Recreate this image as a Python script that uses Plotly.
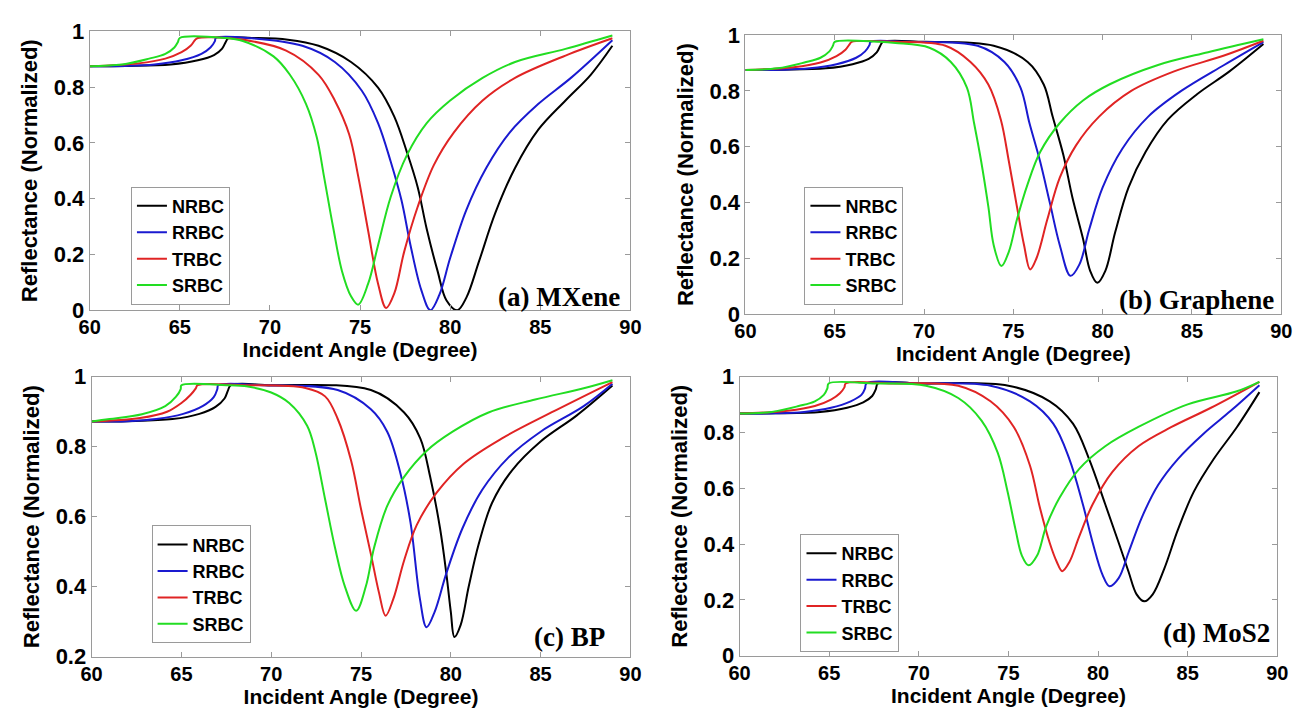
import plotly.graph_objects as go

# ---- Reflectance curves (incident angle in degrees, normalized reflectance) ----
series_names = ["NRBC", "RRBC", "TRBC", "SRBC"]
series_colors = ["#000000", "#1a1ad0", "#e02424", "#22dd22"]
panel_labels = ["(a) MXene", "(b) Graphene", "(c) BP", "(d) MoS2"]
x_ticks = [60, 65, 70, 75, 80, 85, 90]

# (a) MXene
a_nrbc_x = [60, 62, 64.5, 66, 66.9, 67.35, 67.55, 67.7, 69, 71, 72.7, 74.5, 76.0, 76.9, 77.6, 78.2, 78.7, 79.3, 79.8, 80.4, 80.9, 81.6, 82.5, 83.6, 84.9, 86.4, 87.8, 89]
a_nrbc_y = [0.875, 0.876, 0.881, 0.896, 0.915, 0.938, 0.962, 0.976, 0.976, 0.97, 0.948, 0.89, 0.798, 0.694, 0.567, 0.441, 0.291, 0.141, 0.035, 0.0, 0.045, 0.175, 0.348, 0.51, 0.648, 0.752, 0.844, 0.948]
a_rrbc_x = [60, 62, 63.6, 65.1, 66.2, 66.7, 66.95, 67.0, 69, 71.8, 73.6, 75.1, 76.0, 76.7, 77.3, 77.8, 78.4, 78.9, 79.4, 80.0, 80.9, 82.0, 83.3, 84.9, 86.7, 89]
a_rrbc_y = [0.875, 0.876, 0.881, 0.896, 0.919, 0.942, 0.965, 0.976, 0.975, 0.948, 0.89, 0.787, 0.671, 0.533, 0.394, 0.233, 0.072, 0.0, 0.055, 0.187, 0.36, 0.51, 0.637, 0.74, 0.833, 0.968]
a_trbc_x = [60, 62.7, 64.2, 65.1, 65.6, 65.85, 66.0, 68.2, 70.9, 72.7, 73.6, 74.4, 74.9, 75.45, 76.0, 76.45, 76.9, 77.45, 78.2, 79.1, 80.2, 81.8, 83.6, 86.4, 89]
a_trbc_y = [0.875, 0.885, 0.902, 0.925, 0.948, 0.969, 0.976, 0.972, 0.931, 0.844, 0.752, 0.63, 0.48, 0.285, 0.095, 0.008, 0.06, 0.21, 0.371, 0.521, 0.637, 0.752, 0.833, 0.913, 0.975]
a_srbc_x = [60, 61.8, 63.3, 64.2, 64.7, 64.9, 65.0, 67.5, 68.5, 70.2, 71.1, 72.0, 72.6, 73.0, 73.5, 74.0, 74.5, 74.9, 75.45, 76.0, 76.7, 77.6, 78.7, 80.0, 81.8, 83.6, 86.4, 89]
a_srbc_y = [0.875, 0.881, 0.902, 0.919, 0.942, 0.962, 0.976, 0.976, 0.965, 0.91, 0.845, 0.74, 0.62, 0.48, 0.3, 0.14, 0.05, 0.02, 0.095, 0.233, 0.406, 0.556, 0.671, 0.752, 0.833, 0.89, 0.937, 0.985]

# (b) Graphene
b_nrbc_x = [60, 62, 64.5, 66, 66.9, 67.35, 67.55, 67.7, 70, 73.9, 75.8, 76.7, 77.2, 77.8, 78.3, 78.9, 79.3, 79.7, 80.15, 80.7, 81.45, 82.4, 83.65, 85.3, 87.1, 89]
b_nrbc_y = [0.875, 0.876, 0.881, 0.896, 0.915, 0.938, 0.962, 0.976, 0.976, 0.962, 0.904, 0.823, 0.708, 0.57, 0.42, 0.27, 0.155, 0.112, 0.155, 0.293, 0.454, 0.581, 0.697, 0.789, 0.87, 0.968]
b_rrbc_x = [60, 62, 63.6, 65.1, 66.2, 66.7, 66.95, 67.0, 69, 73.0, 74.5, 75.4, 75.9, 76.5, 77.05, 77.6, 78.2, 78.7, 79.25, 80.0, 81.1, 82.55, 84.4, 86.8, 89]
b_rrbc_y = [0.875, 0.876, 0.881, 0.896, 0.919, 0.942, 0.965, 0.976, 0.976, 0.962, 0.904, 0.812, 0.685, 0.547, 0.397, 0.247, 0.137, 0.178, 0.304, 0.454, 0.593, 0.708, 0.8, 0.893, 0.975]
b_trbc_x = [60, 62.7, 64.2, 65.1, 65.6, 65.85, 65.95, 68.4, 71.2, 72.6, 73.6, 74.3, 74.75, 75.2, 75.6, 75.94, 76.3, 76.9, 77.6, 78.5, 79.8, 81.6, 84.0, 86.8, 89]
b_trbc_y = [0.875, 0.885, 0.902, 0.925, 0.948, 0.969, 0.976, 0.976, 0.962, 0.904, 0.823, 0.697, 0.547, 0.385, 0.247, 0.16, 0.201, 0.339, 0.489, 0.604, 0.708, 0.8, 0.87, 0.927, 0.98]
b_srbc_x = [60, 61.8, 63.3, 64.2, 64.7, 64.9, 65.0, 67.5, 68.4, 70.3, 71.5, 72.4, 72.8, 73.2, 73.6, 73.9, 74.33, 74.75, 75.2, 75.8, 76.5, 77.6, 78.9, 80.4, 83.1, 85.9, 89]
b_srbc_y = [0.875, 0.881, 0.902, 0.919, 0.942, 0.962, 0.976, 0.976, 0.972, 0.955, 0.904, 0.812, 0.685, 0.547, 0.385, 0.247, 0.172, 0.224, 0.339, 0.466, 0.581, 0.685, 0.766, 0.824, 0.893, 0.939, 0.985]

# (c) BP
c_nrbc_x = [60, 62, 64.5, 66, 66.9, 67.4, 67.6, 67.75, 70, 75.55, 77.4, 78.3, 78.85, 79.4, 79.75, 80.0, 80.2, 80.55, 81.0, 81.55, 82.3, 83.4, 85.0, 87.0, 89]
c_nrbc_y = [0.872, 0.873, 0.879, 0.894, 0.914, 0.938, 0.962, 0.976, 0.976, 0.962, 0.898, 0.824, 0.714, 0.567, 0.438, 0.328, 0.256, 0.291, 0.401, 0.521, 0.64, 0.732, 0.815, 0.889, 0.975]
c_rrbc_x = [60, 62, 63.6, 65.1, 66.2, 66.8, 67.0, 67.05, 69.5, 73.7, 75.55, 76.46, 77.2, 77.75, 78.28, 78.65, 79.1, 79.75, 80.65, 81.75, 83.2, 85.0, 87.4, 89]
c_rrbc_y = [0.872, 0.873, 0.879, 0.894, 0.917, 0.942, 0.965, 0.976, 0.976, 0.962, 0.907, 0.843, 0.723, 0.585, 0.365, 0.284, 0.328, 0.438, 0.567, 0.677, 0.769, 0.843, 0.916, 0.98]
c_trbc_x = [60, 62.7, 64.2, 65.0, 65.5, 65.8, 65.9, 68.5, 71.9, 73.0, 73.7, 74.45, 75.0, 75.55, 76.0, 76.37, 76.8, 77.4, 78.1, 79.2, 80.7, 82.85, 85.6, 89]
c_trbc_y = [0.872, 0.882, 0.9, 0.925, 0.948, 0.967, 0.976, 0.976, 0.968, 0.944, 0.88, 0.76, 0.622, 0.493, 0.383, 0.317, 0.365, 0.475, 0.576, 0.668, 0.751, 0.824, 0.898, 0.985]
c_srbc_x = [60, 61.0, 62.8, 64.1, 64.7, 64.96, 65.0, 67.5, 68.7, 70.0, 71.0, 72.0, 72.45, 73.0, 73.55, 74.1, 74.73, 75.27, 75.73, 76.46, 77.4, 78.65, 80.1, 82.1, 84.7, 87.4, 89]
c_srbc_y = [0.872, 0.879, 0.893, 0.916, 0.943, 0.965, 0.976, 0.976, 0.972, 0.955, 0.925, 0.86, 0.788, 0.65, 0.512, 0.401, 0.331, 0.401, 0.512, 0.631, 0.714, 0.788, 0.843, 0.898, 0.935, 0.967, 0.99]

# (d) MoS2
d_nrbc_x = [60, 62, 64.5, 66, 66.9, 67.4, 67.6, 67.72, 70, 75.0, 77.3, 78.6, 79.5, 80.4, 81.15, 81.7, 82.15, 82.58, 83.05, 83.7, 84.45, 85.35, 86.45, 87.75, 89]
d_nrbc_y = [0.868, 0.869, 0.874, 0.889, 0.908, 0.931, 0.955, 0.976, 0.976, 0.968, 0.912, 0.832, 0.705, 0.543, 0.405, 0.301, 0.22, 0.195, 0.22, 0.313, 0.451, 0.589, 0.705, 0.82, 0.945]
d_rrbc_x = [60, 62, 63.6, 65.1, 66.2, 66.8, 67.0, 67.08, 70, 74.0, 76.2, 77.5, 78.4, 79.15, 79.7, 80.25, 80.64, 81.15, 81.7, 82.45, 83.35, 84.45, 85.9, 87.4, 89]
d_rrbc_y = [0.868, 0.869, 0.874, 0.889, 0.912, 0.935, 0.958, 0.976, 0.976, 0.968, 0.912, 0.832, 0.705, 0.543, 0.405, 0.29, 0.249, 0.278, 0.37, 0.497, 0.612, 0.705, 0.797, 0.878, 0.97]
d_trbc_x = [60, 62.7, 64.2, 65.1, 65.6, 65.85, 65.92, 68.5, 72.2, 74.0, 75.3, 76.2, 76.75, 77.3, 77.7, 78.0, 78.4, 78.95, 79.7, 80.8, 82.25, 84.1, 86.3, 89]
d_trbc_y = [0.868, 0.878, 0.895, 0.918, 0.941, 0.962, 0.976, 0.976, 0.968, 0.912, 0.82, 0.682, 0.532, 0.405, 0.336, 0.303, 0.336, 0.428, 0.543, 0.659, 0.751, 0.82, 0.889, 0.982]
d_srbc_x = [60, 61.8, 63.3, 64.2, 64.7, 64.9, 64.97, 67.6, 70.4, 72.2, 73.5, 74.4, 74.95, 75.4, 75.75, 76.12, 76.6, 77.1, 77.85, 78.95, 80.4, 82.25, 85.0, 87.7, 89]
d_srbc_y = [0.868, 0.874, 0.895, 0.912, 0.935, 0.958, 0.976, 0.976, 0.968, 0.924, 0.843, 0.728, 0.589, 0.451, 0.359, 0.324, 0.359, 0.463, 0.566, 0.67, 0.751, 0.82, 0.901, 0.947, 0.982]

panels = [
    [(a_nrbc_x, a_nrbc_y), (a_rrbc_x, a_rrbc_y), (a_trbc_x, a_trbc_y), (a_srbc_x, a_srbc_y)],
    [(b_nrbc_x, b_nrbc_y), (b_rrbc_x, b_rrbc_y), (b_trbc_x, b_trbc_y), (b_srbc_x, b_srbc_y)],
    [(c_nrbc_x, c_nrbc_y), (c_rrbc_x, c_rrbc_y), (c_trbc_x, c_trbc_y), (c_srbc_x, c_srbc_y)],
    [(d_nrbc_x, d_nrbc_y), (d_rrbc_x, d_rrbc_y), (d_trbc_x, d_trbc_y), (d_srbc_x, d_srbc_y)],
]
y_ranges = [[0, 1], [0, 1], [0.2, 1], [0, 1]]
y_ticks = [[0, 0.2, 0.4, 0.6, 0.8, 1], [0, 0.2, 0.4, 0.6, 0.8, 1],
           [0.2, 0.4, 0.6, 0.8, 1], [0, 0.2, 0.4, 0.6, 0.8, 1]]

# ---- layout geometry (paper fractions) ----
W, H = 1308, 715
x_domains = [[80 / W, 630 / W], [747 / W, 1292 / W], [82 / W, 630 / W], [741 / W, 1288 / W]]
y_domains = [[1 - 309 / H, 1 - 20 / H], [1 - 313 / H, 1 - 24 / H],
             [1 - 668 / H, 1 - 378 / H], [1 - 667 / H, 1 - 378 / H]]
legend_pos = [(122 / W, 1 - 181 / H), (807 / W, 1 - 181 / H),
              (143 / W, 1 - 532 / H), (803 / W, 1 - 541 / H)]
label_pos = [(621 / W, 1 - 295 / H), (1287 / W, 1 - 298 / H),
             (606 / W, 1 - 648 / H), (1283 / W, 1 - 644 / H)]

sans = "Liberation Sans, Arial, sans-serif"
serif = "Liberation Serif, Times New Roman, serif"
frame = "#9a9a9a"

fig = go.Figure()
legend_ids = ["legend", "legend2", "legend3", "legend4"]

for p, curves in enumerate(panels):
    ax = "" if p == 0 else str(p + 1)
    for s, (xs, ys) in enumerate(curves):
        fig.add_trace(go.Scatter(
            x=xs, y=ys, mode="lines", name=series_names[s],
            line=dict(color=series_colors[s], width=2, shape="spline", smoothing=1.0),
            xaxis="x" + ax, yaxis="y" + ax, legend=legend_ids[p],
        ))

layout = dict(
    width=W, height=H, margin=dict(l=0, r=0, t=0, b=0),
    paper_bgcolor="white", plot_bgcolor="white",
    font=dict(family=sans, color="black"),
    annotations=[],
)

for p in range(4):
    ax = "" if p == 0 else str(p + 1)
    layout["xaxis" + ax] = dict(
        domain=x_domains[p], range=[60, 90], tickvals=x_ticks,
        anchor="y" + ax, ticks="inside", ticklen=5, tickcolor=frame, tickwidth=1,
        showline=True, linecolor=frame, linewidth=1, mirror="ticks",
        showgrid=False, zeroline=False, ticklabelstandoff=-1,
        tickfont=dict(family=sans, size=20, color="black", weight="bold"),
        title=dict(text="Incident Angle (Degree)", standoff=0,
                   font=dict(family=sans, size=21, color="black", weight="bold")),
    )
    layout["yaxis" + ax] = dict(
        domain=y_domains[p], range=y_ranges[p], tickvals=y_ticks[p],
        ticktext=[f"{v:g}" for v in y_ticks[p]],
        anchor="x" + ax, ticks="inside", ticklen=5, tickcolor=frame, tickwidth=1,
        showline=True, linecolor=frame, linewidth=1, mirror="ticks",
        showgrid=False, zeroline=False,
        tickfont=dict(family=sans, size=22, color="black", weight="bold"),
        title=dict(text="Reflectance (Normalized)", standoff=9,
                   font=dict(family=sans, size=22, color="black", weight="bold")),
    )
    lx, ly = legend_pos[p]
    layout[legend_ids[p]] = dict(
        x=lx, y=ly, xanchor="left", yanchor="top", xref="paper", yref="paper",
        bgcolor="white", bordercolor=frame, borderwidth=1,
        font=dict(family=sans, size=18, color="black", weight="bold"),
        itemwidth=30, tracegroupgap=0, entrywidth=72, entrywidthmode="pixels",
    )
    tx, ty = label_pos[p]
    layout["annotations"].append(dict(
        text=panel_labels[p], x=tx, y=ty, xref="paper", yref="paper",
        xanchor="right", yanchor="middle", showarrow=False,
        font=dict(family=serif, size=27, color="black", weight="bold"),
    ))

fig.update_layout(**layout)
fig.write_html("out.html")
